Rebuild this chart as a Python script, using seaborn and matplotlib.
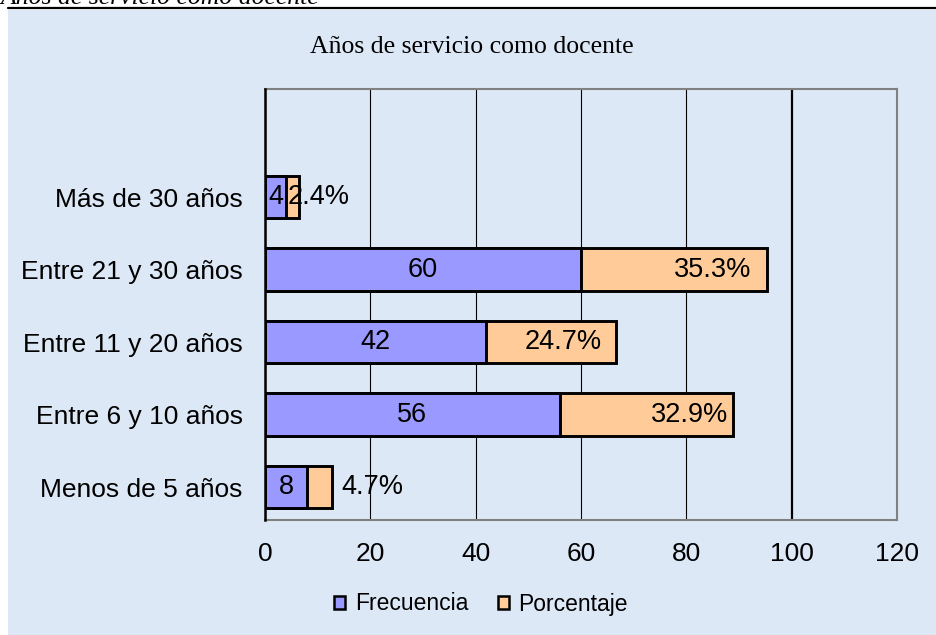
import matplotlib
matplotlib.use("Agg")
import matplotlib.pyplot as plt
import matplotlib.patches as mpatches
from matplotlib.lines import Line2D
import seaborn as sns
import pandas as pd

categories = ["Más de 30 años", "Entre 21 y 30 años", "Entre 11 y 20 años",
              "Entre 6 y 10 años", "Menos de 5 años"]
frecuencia = [4, 60, 42, 56, 8]
porcentaje = [2.4, 35.3, 24.7, 32.9, 4.7]
pct_label_x = [10.1, 85.0, 56.6, 80.7, 20.3]
xticks = [0, 20, 40, 60, 80, 100, 120]

title = "Años de servicio como docente"
caption = "Años de servicio como docente"

BLUE = "#9999FF"
ORANGE = "#FFCC99"
BG = "#dde8f6"

sns.set_theme(style="white")
plt.rcParams["font.family"] = ["Liberation Sans", "DejaVu Sans"]
plt.rcParams["text.color"] = "black"
plt.rcParams["xtick.color"] = "black"
plt.rcParams["ytick.color"] = "black"

df = pd.DataFrame({"cat": categories, "freq": frecuencia, "pct": porcentaje})
df["total"] = df["freq"] + df["pct"]

fig = plt.figure(figsize=(9.36, 6.35), dpi=100)
fig.patch.set_facecolor("white")
fig.patches.append(mpatches.Rectangle((8 / 936, 0), 1, 1 - 10 / 635, transform=fig.transFigure,
                                      facecolor=BG, edgecolor="none", zorder=-10))
fig.lines.append(Line2D([8 / 936, 1], [1 - 8 / 635, 1 - 8 / 635], transform=fig.transFigure,
                        color="black", lw=1.6))
fig.text(0.0, 1 - 4 / 635, caption, family="Liberation Serif", style="italic",
         fontsize=18.5, va="baseline", ha="left", color="black")

ax = fig.add_axes([265 / 936, 1 - 520 / 635, (897 - 265) / 936, (520 - 89) / 635])
ax.set_facecolor("none")

sns.barplot(data=df, y="cat", x="total", orient="h", color=ORANGE, saturation=1,
            width=0.58, edgecolor="black", linewidth=2.1, ax=ax, zorder=3)
sns.barplot(data=df, y="cat", x="freq", orient="h", color=BLUE, saturation=1,
            width=0.58, edgecolor="black", linewidth=2.1, ax=ax, zorder=4)

ax.set_xlim(0, 120)
ax.set_ylim(4.455, -1.49)
ax.set_xticks(xticks)
ax.set_xticklabels([str(t) for t in xticks])
ax.set_xlabel("")
ax.set_ylabel("")
ax.tick_params(axis="x", length=0, pad=16, labelsize=19, labelcolor="black")
ax.tick_params(axis="y", length=0, pad=16, labelsize=19, labelcolor="black")

ax.grid(axis="x", color="black", linewidth=0.8)
ax.set_axisbelow(True)
gl = ax.xaxis.get_gridlines()
gl[5].set_linewidth(1.6)

for s in ["top", "right", "bottom"]:
    ax.spines[s].set_color("#808080")
    ax.spines[s].set_linewidth(1.5)
ax.spines["left"].set_color("black")
ax.spines["left"].set_linewidth(1.8)
ax.spines["left"].set_zorder(6)

for i, (f, p) in enumerate(zip(frecuencia, porcentaje)):
    ax.text(f / 2, i, str(f), ha="center", va="center", fontsize=19.5, zorder=7, color="black")
    ax.text(pct_label_x[i], i, f"{p}%", ha="center", va="center", fontsize=19.5, zorder=7,
            color="black")

fig.text(471.5 / 936, 1 - 47 / 635, title, family="Liberation Serif", fontsize=18.5,
         ha="center", va="center", color="black")

handles = [mpatches.Patch(facecolor=BLUE, edgecolor="black", linewidth=1.8, label="Frecuencia"),
           mpatches.Patch(facecolor=ORANGE, edgecolor="black", linewidth=1.8, label="Porcentaje")]
fig.legend(handles=handles, loc="center", bbox_to_anchor=(481 / 936, 1 - 604 / 635),
           ncol=2, frameon=False, fontsize=16.5, handlelength=0.5, handleheight=0.5,
           handletextpad=0.4, columnspacing=1.3, labelcolor="black")

fig.savefig("out.png", dpi=100, facecolor=fig.get_facecolor())
